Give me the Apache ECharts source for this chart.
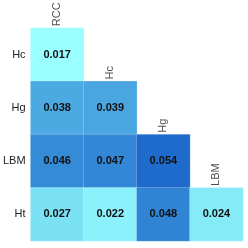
<!DOCTYPE html>
<html>
<head>
<meta charset="utf-8">
<script src="https://cdn.jsdelivr.net/npm/echarts@6/dist/echarts.min.js"></script>
<style>html,body{margin:0;padding:0;background:#fff}#c{width:248px;height:248px}</style>
</head>
<body>
<div id="c"></div>
<script>
var colNames = ['RCC', 'Hc', 'Hg', 'LBM'];
var rowNames = ['Hc', 'Hg', 'LBM', 'Ht'];
var rowHc  = [0.017, null, null, null];
var rowHg  = [0.038, 0.039, null, null];
var rowLBM = [0.046, 0.047, 0.054, null];
var rowHt  = [0.027, 0.022, 0.048, 0.024];
var rows = [rowHc, rowHg, rowLBM, rowHt];

var cells = [];
rows.forEach(function (r, ri) {
  r.forEach(function (v, ci) {
    if (v !== null) cells.push([ci, ri, v]);
  });
});
var headers = colNames.map(function (n, i) { return { value: [i, i], name: n }; });

var chart = echarts.init(document.getElementById('c'), null, { renderer: 'canvas' });
chart.setOption({
  animation: false,
  grid: { left: 30, right: 5, top: 28, bottom: 7 },
  xAxis: {
    type: 'category', data: colNames, position: 'top',
    axisLine: { show: false }, axisTick: { show: false }, axisLabel: { show: false },
    splitLine: { show: false }
  },
  yAxis: {
    type: 'category', data: rowNames, inverse: true,
    axisLine: { show: false }, axisTick: { show: false },
    axisLabel: { color: '#222', fontSize: 11, fontFamily: 'Liberation Sans', margin: 5 },
    splitLine: { show: false }
  },
  visualMap: {
    show: false, type: 'continuous', dimension: 2, seriesIndex: 0,
    min: 0.017, max: 0.054,
    inRange: { color: ['#9AFFFF', '#7EE6F5', '#52B4E6', '#3A90D9', '#1F6BCB'] }
  },
  series: [{
    type: 'heatmap', data: cells,
    itemStyle: { borderColor: 'rgba(255,255,255,0.2)', borderWidth: 1 },
    label: {
      show: true, fontSize: 11, fontWeight: 'bold', color: '#111', fontFamily: 'Liberation Sans',
      formatter: function (p) { return p.value[2].toFixed(3); }
    }
  }, {
    type: 'scatter', data: headers, symbolSize: 0,
    itemStyle: { color: 'rgba(0,0,0,0)' },
    label: {
      show: true, position: [0, -28.5], rotate: 90, align: 'left', verticalAlign: 'middle',
      fontSize: 11, color: '#222', fontFamily: 'Liberation Sans',
      formatter: function (p) { return p.name; }
    }
  }]
});
</script>
</body>
</html>
